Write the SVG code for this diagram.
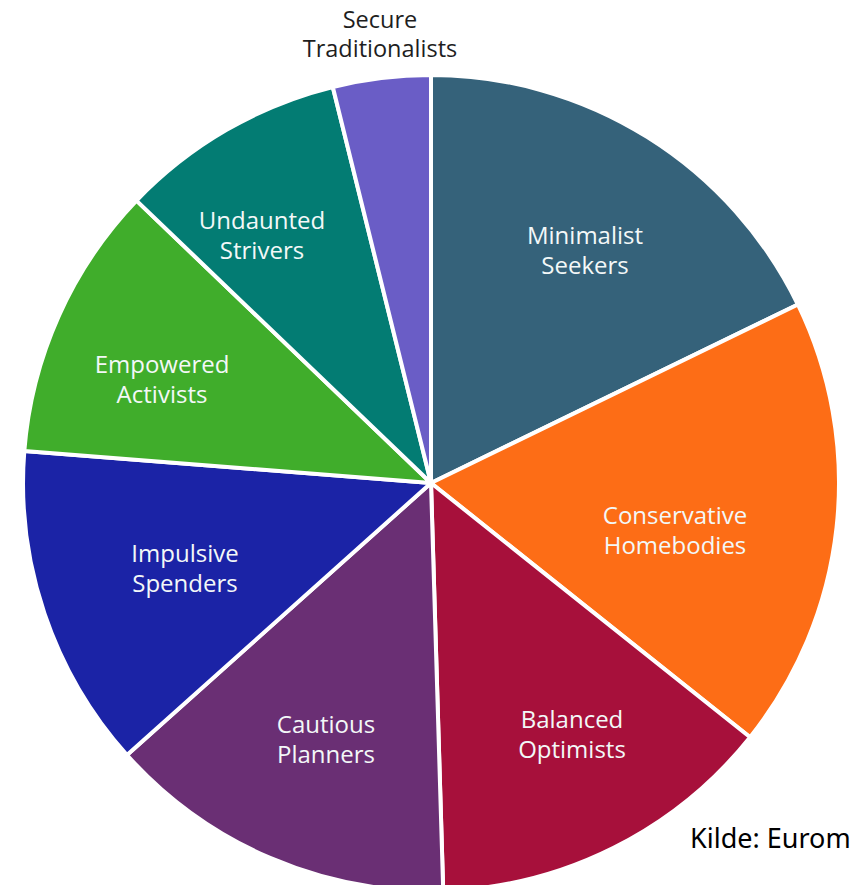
<svg xmlns="http://www.w3.org/2000/svg" width="851" height="885" viewBox="0 0 851 885">
<style>
.slice{stroke:#ffffff;stroke-width:4;stroke-linejoin:round}
.lbl{font-family:"Open Sans","Lato","Liberation Sans",sans-serif;font-size:24px;fill:#f3f8f8;text-anchor:middle}
.lbl-out{font-family:"Open Sans","Lato","Liberation Sans",sans-serif;font-size:23.5px;fill:#1e1e1e;text-anchor:middle}
.src{font-family:"Noto Sans","Open Sans","Liberation Sans",sans-serif;font-size:27px;fill:#000000}
</style>
<rect width="851" height="885" fill="#ffffff"/>
<g id="minimalist-seekers">
<path class="slice" fill="#35627A" d="M431,483 L431,75 A408,408 0 0 1 797.9,304.5 Z"/>
<text class="lbl" x="585" y="244">Minimalist</text>
<text class="lbl" x="585" y="274">Seekers</text>
</g>
<g id="conservative-homebodies">
<path class="slice" fill="#FD6D16" d="M431,483 L797.9,304.5 A408,408 0 0 1 750.1,737.2 Z"/>
<text class="lbl" x="675" y="524">Conservative</text>
<text class="lbl" x="675" y="554">Homebodies</text>
</g>
<g id="balanced-optimists">
<path class="slice" fill="#A7103B" d="M431,483 L750.1,737.2 A408,408 0 0 1 443.2,890.8 Z"/>
<text class="lbl" x="572" y="728">Balanced</text>
<text class="lbl" x="572" y="758">Optimists</text>
</g>
<g id="cautious-planners">
<path class="slice" fill="#6A2F74" d="M431,483 L443.2,890.8 A408,408 0 0 1 127,755.1 Z"/>
<text class="lbl" x="326" y="733">Cautious</text>
<text class="lbl" x="326" y="763">Planners</text>
</g>
<g id="impulsive-spenders">
<path class="slice" fill="#1B23A6" d="M431,483 L127,755.1 A408,408 0 0 1 24.3,451 Z"/>
<text class="lbl" x="185" y="562">Impulsive</text>
<text class="lbl" x="185" y="592">Spenders</text>
</g>
<g id="empowered-activists">
<path class="slice" fill="#40AD2B" d="M431,483 L24.3,451 A408,408 0 0 1 136.5,200.6 Z"/>
<text class="lbl" x="162" y="373">Empowered</text>
<text class="lbl" x="162" y="403">Activists</text>
</g>
<g id="undaunted-strivers">
<path class="slice" fill="#037C73" d="M431,483 L136.5,200.6 A408,408 0 0 1 332.8,87 Z"/>
<text class="lbl" x="262" y="229">Undaunted</text>
<text class="lbl" x="262" y="259">Strivers</text>
</g>
<g id="secure-traditionalists">
<path class="slice" fill="#6A5DC6" d="M431,483 L332.8,87 A408,408 0 0 1 431,75 Z"/>
<text class="lbl-out" x="380" y="28">Secure</text>
<text class="lbl-out" x="380" y="57">Traditionalists</text>
</g>
<g id="connectors"></g>
<text class="src" x="690" y="848">Kilde: Eurom</text>
</svg>
